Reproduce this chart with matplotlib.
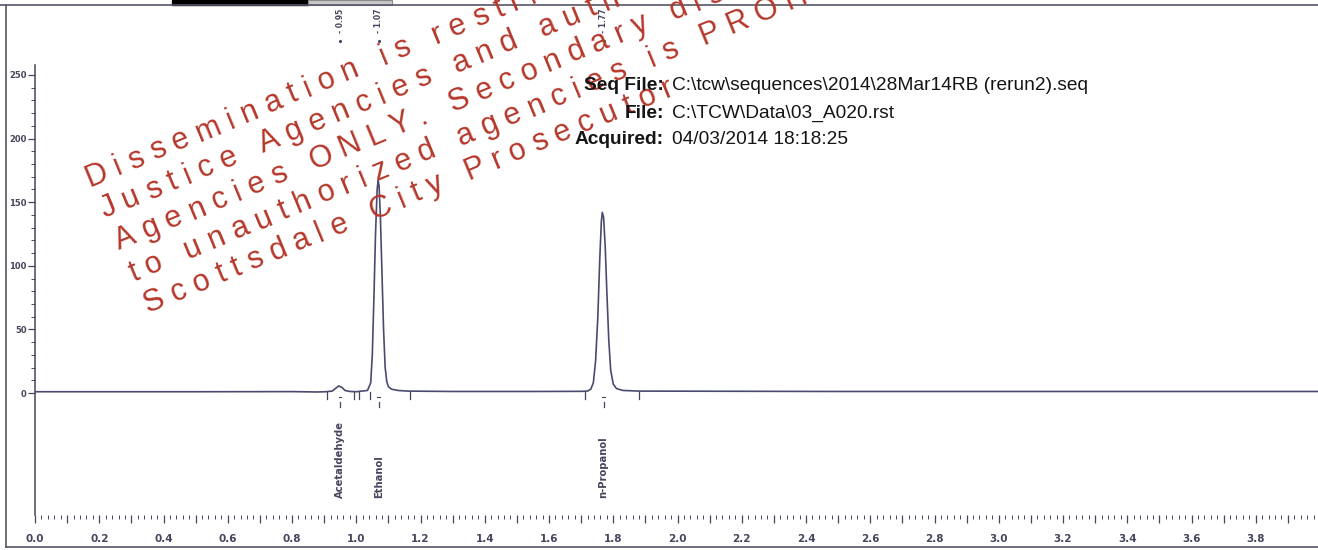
import matplotlib
matplotlib.use("Agg")
import matplotlib.pyplot as plt
from matplotlib.patches import Rectangle
from matplotlib.lines import Line2D
from matplotlib.ticker import MultipleLocator, FixedLocator, FuncFormatter
from matplotlib.font_manager import FontProperties
import math

# chromatogram trace (time in min, signal)
times = [0.00, 0.50, 0.80, 0.88, 0.905, 0.925, 0.935, 0.945, 0.955, 0.965, 0.98, 1.00,
         1.035, 1.045, 1.050, 1.055, 1.060, 1.065, 1.068, 1.071, 1.075, 1.080, 1.085,
         1.090, 1.095, 1.100, 1.110, 1.130, 1.160, 1.30, 1.55, 1.70, 1.720, 1.730,
         1.738, 1.745, 1.752, 1.758, 1.763, 1.766, 1.770, 1.775, 1.780, 1.786, 1.792,
         1.800, 1.810, 1.830, 1.880, 2.50, 3.20, 4.00]
signal = [1.0, 1.0, 1.1, 0.8, 1.0, 1.5, 3.5, 5.5, 4.5, 2.0, 1.2, 1.0,
          2.0, 8.0, 30.0, 75.0, 125.0, 160.0, 167.0, 163.0, 140.0, 95.0, 50.0,
          20.0, 9.0, 5.0, 3.0, 2.0, 1.5, 1.2, 1.2, 1.3, 1.5, 3.0,
          8.0, 25.0, 60.0, 105.0, 135.0, 142.0, 138.0, 115.0, 80.0, 42.0, 18.0,
          7.0, 3.5, 2.0, 1.5, 1.2, 1.2, 1.2]

# peak retention times and names
peak_rt = [0.95, 1.07, 1.77]
peak_rt_labels = ["0.95", "1.07", "1.77"]
peak_names = ["Acetaldehyde", "Ethanol", "n-Propanol"]
# integration event marks below the baseline
event_times = [0.908, 0.992, 1.008, 1.042, 1.166, 1.711, 1.879]

info_keys = ["Seq File:", "File:", "Acquired:"]
info_vals = [r"C:\tcw\sequences\2014\28Mar14RB (rerun2).seq",
             r"C:\TCW\Data\03_A020.rst",
             "04/03/2014 18:18:25"]

watermark = ["Dissemination is restricted to Criminal",
             "Justice Agencies and authorized dissemination",
             "Agencies ONLY. Secondary dissemination",
             "to unauthorized agencies is PROHIBITED",
             "Scottsdale City Prosecutor"]

W, H = 1318, 550
ink = "#45455e"
fig = plt.figure(figsize=(W / 100, H / 100), dpi=100)

# axes placed in pixel terms of the page
x0_px, x4_px = 35, 1320
ybot_px, ytop_px = 515, 5
ax = fig.add_axes([x0_px / W, 1 - ybot_px / H, (x4_px - x0_px) / W, (ybot_px - ytop_px) / H])
ax.set_xlim(0, 4.0)
ax.set_ylim(-95.9, 305.0)
ax.patch.set_alpha(0)

ax.plot(times, signal, color="#4a4a70", lw=1.2, zorder=3)

for s in ["top", "right", "bottom"]:
    ax.spines[s].set_visible(False)
ax.spines["left"].set_bounds(-95.9, 258)
ax.spines["left"].set_color(ink)
ax.spines["left"].set_linewidth(1.1)

ax.yaxis.set_major_locator(FixedLocator([0, 50, 100, 150, 200, 250]))
ax.yaxis.set_minor_locator(FixedLocator(list(range(0, 251, 10))))
ax.tick_params(axis="y", which="major", length=5, width=0.9, color=ink,
               labelsize=6, labelcolor=ink, pad=1)
ax.tick_params(axis="y", which="minor", length=3, width=0.7, color=ink)
for lab in ax.get_yticklabels():
    lab.set_fontweight("bold")

ax.xaxis.set_major_locator(MultipleLocator(0.1))
ax.xaxis.set_minor_locator(MultipleLocator(0.02))
ax.xaxis.set_major_formatter(FuncFormatter(
    lambda v, p: f"{v:.1f}" if abs(round(v * 10) % 2) == 0 and v < 3.95 else ""))
ax.tick_params(axis="x", which="major", length=6, width=0.9, color=ink,
               labelsize=7.5, labelcolor=ink, pad=8)
ax.tick_params(axis="x", which="minor", length=3, width=0.7, color=ink)
for lab in ax.get_xticklabels():
    lab.set_fontweight("bold")

# retention time labels at the top, peak names below the baseline
for rt, lbl, name in zip(peak_rt, peak_rt_labels, peak_names):
    ax.text(rt, 302, "- " + lbl, rotation=90, ha="center", va="top",
            fontsize=5.5, color=ink, fontweight="bold")
    ax.plot([rt], [277], marker=".", ms=2.5, color=ink)
    ax.plot([rt, rt], [-7, -11], color=ink, lw=0.9)
    ax.plot([rt - 0.004, rt + 0.004], [-3.5, -3.5], color=ink, lw=0.8)
    ax.text(rt, -82.5, name, rotation=90, ha="center", va="bottom",
            fontsize=7.2, color=ink, fontweight="bold")
for et in event_times:
    ax.plot([et, et], [0.5, -5], color=ink, lw=0.9)

# file info block
for i, (k, v) in enumerate(zip(info_keys, info_vals)):
    yy = 1 - (86 + 27 * i) / H
    fig.text(664 / W, yy, k, ha="right", va="center", fontsize=13.8,
             fontweight="bold", family="Liberation Sans", color="#151515", zorder=6)
    fig.text(672 / W, yy, v, ha="left", va="center", fontsize=13.8,
             family="Liberation Sans", color="#151515", zorder=6)

# page frame and cut-off header bars
fig.add_artist(Line2D([0, 1], [1 - 5 / H, 1 - 5 / H], color="#555566", lw=1.2))
fig.add_artist(Line2D([6 / W, 6 / W], [1 - 5 / H, 1 - 547 / H], color="#555566", lw=1.2))
fig.add_artist(Line2D([6 / W, 1], [1 - 547 / H, 1 - 547 / H], color="#555566", lw=1.2))
fig.add_artist(Rectangle((172 / W, 1 - 5 / H), 136 / W, 5 / H, color="black"))
fig.add_artist(Rectangle((308 / W, 1 - 5 / H), 84 / W, 5 / H, facecolor="#c8c8c8",
                         edgecolor="#888888", lw=0.8))

# red watermark, letter-spaced, drawn char by char
renderer = fig.canvas.get_renderer()
wm_prop = FontProperties(family="Liberation Sans", size=22)
ang = 22.5
dx, dy = math.cos(math.radians(ang)), math.sin(math.radians(ang))
spacing = 8.5
for i, line in enumerate(watermark):
    px = 90 + 14.5 * i
    py = H - (187 + 31.5 * i)
    for ch in line:
        w, _, _ = renderer.get_text_width_height_descent(ch if ch != " " else "n", wm_prop, ismath=False)
        if ch == " ":
            w = w * 0.5
        else:
            fig.text(px, py, ch, transform=None, rotation=ang, rotation_mode="anchor",
                     ha="left", va="baseline", fontproperties=wm_prop,
                     color="#b5372a", zorder=5)
        px += (w + spacing) * dx
        py += (w + spacing) * dy

fig.savefig("out.png", dpi=100)
